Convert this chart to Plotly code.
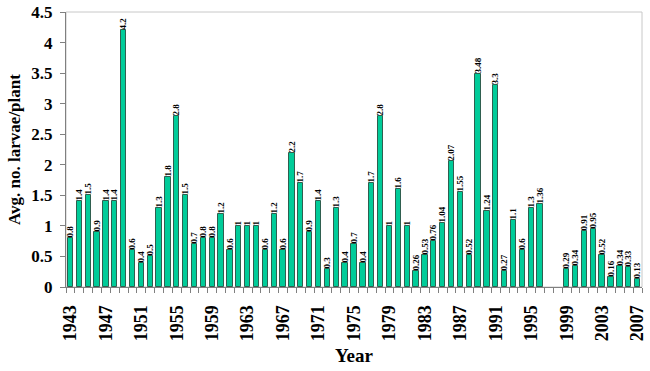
import plotly.graph_objects as go

years = list(range(1943, 2008))
values = [0.8, 1.4, 1.5, 0.9, 1.4, 1.4, 4.2, 0.6, 0.4, 0.5,
          1.3, 1.8, 2.8, 1.5, 0.7, 0.8, 0.8, 1.2, 0.6, 1,
          1, 1, 0.6, 1.2, 0.6, 2.2, 1.7, 0.9, 1.4, 0.3,
          1.3, 0.4, 0.7, 0.4, 1.7, 2.8, 1, 1.6, 1, 0.26,
          0.53, 0.76, 1.04, 2.07, 1.55, 0.52, 3.48, 1.24, 3.3, 0.27,
          1.1, 0.6, 1.3, 1.36, None, None, 0.29, 0.34, 0.91, 0.95,
          0.52, 0.16, 0.34, 0.33, 0.13]
labels = ["" if v is None else f"{v:g}" for v in values]
tick_years = list(range(1943, 2008, 4))
y_ticks = [0, 0.5, 1, 1.5, 2, 2.5, 3, 3.5, 4, 4.5]

FONT = "Liberation Serif"

fig = go.Figure(go.Bar(
    x=years, y=values, width=0.6,
    marker=dict(color="#00CC99", line=dict(color="#2F5F4F", width=1)),
    text=[f"<b>{t}</b>" for t in labels], textposition="outside", textangle=-90,
    constraintext="none", cliponaxis=False,
    textfont=dict(family=FONT, size=9, color="black"),
))

fig.update_layout(
    width=650, height=371,
    margin=dict(l=66, r=8, t=12, b=84),
    plot_bgcolor="white", paper_bgcolor="white",
    showlegend=False, bargap=0,
    xaxis=dict(
        range=[1942.5, 2007.5], tickmode="array", tickvals=tick_years,
        ticktext=[f"<b>{y}</b>" for y in tick_years], tickangle=-90,
        ticks="", showgrid=False, zeroline=False, automargin=False,
        ticklabelstandoff=10,
        showline=True, linecolor="#808080", linewidth=1,
        tickfont=dict(family=FONT, size=18, color="black"),
        minor=dict(tickmode="linear", tick0=1942.5, dtick=1, ticks="outside",
                   ticklen=5, tickcolor="#808080", showgrid=False),
        title=dict(text="<b>Year</b>", standoff=8,
                   font=dict(family=FONT, size=19, color="black")),
    ),
    yaxis=dict(
        range=[0, 4.5], tickmode="array", tickvals=y_ticks,
        ticktext=[f"<b>{v:g}</b>" for v in y_ticks],
        ticks="outside", ticklen=5, tickcolor="#808080",
        showgrid=False, zeroline=False, automargin=False,
        ticklabelstandoff=4,
        showline=True, linecolor="#808080", linewidth=1,
        tickfont=dict(family=FONT, size=17, color="black"),
        title=dict(text="<b>Avg. no. larvae/plant</b>", standoff=6,
                   font=dict(family=FONT, size=17, color="black")),
    ),
    shapes=[dict(type="rect", xref="x domain", yref="y domain", x0=0, x1=1, y0=0, y1=1,
                 line=dict(color="#C8C8C8", width=1), layer="below")],
)

fig.write_html("out.html", config={"displayModeBar": False},
               post_script="document.body.style.margin='0';")
